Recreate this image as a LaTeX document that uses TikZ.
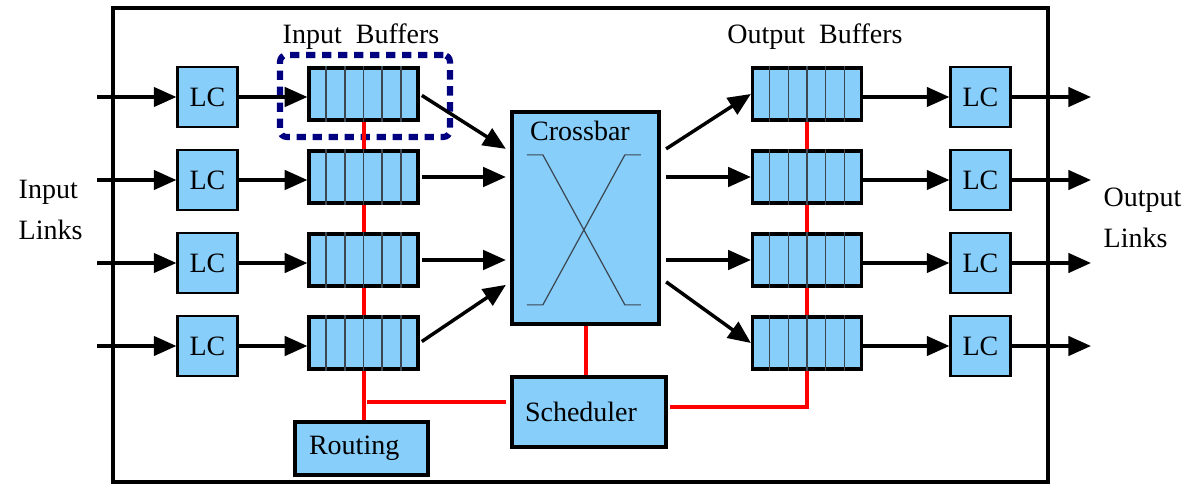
\documentclass[tikz,border=0pt]{standalone}
\usepackage{fontspec}
\setmainfont{Liberation Serif}
\usetikzlibrary{arrows.meta,calc}
\definecolor{boxblue}{RGB}{135,206,250}
\definecolor{navyd}{RGB}{0,0,128}
\definecolor{xline}{RGB}{60,70,80}
\begin{document}
\begin{tikzpicture}[x=0.75pt,y=-0.75pt,
  every node/.style={font=\fontsize{21}{25}\selectfont},
  lcbox/.style={draw=black,line width=1.6pt,fill=boxblue,minimum width=45pt,minimum height=45.5pt,inner sep=0pt},
  bufbox/.style={draw=black,line width=2.4pt,fill=boxblue,minimum width=81.75pt,minimum height=39pt,inner sep=0pt},
  bigbox/.style={draw=black,line width=3.2pt,fill=boxblue,inner sep=0pt},
  arr/.style={line width=2.6pt,-{Triangle[length=17pt,width=14.5pt]}},
  redl/.style={red,line width=3pt},
  divl/.style={line width=1.1pt,draw=xline}]
\useasboundingbox (0,0) rectangle (1186,484);
% outer frame
\draw[line width=3.4pt] (113,8) rectangle (1048,482);
% dashed highlight
\node[draw=navyd,line width=4.6pt,dash pattern=on 7pt off 5pt,rounded corners=5pt,minimum width=127.5pt,minimum height=61.5pt,inner sep=0pt] (hl) at (365,96) {};
% line cards
\foreach \i/\y in {1/97,2/180,3/263,4/346}{
  \node[lcbox] (li\i) at (207.5,\y) {LC};
  \node[bufbox] (ib\i) at (363.5,\y-3) {};
  \node[bufbox] (ob\i) at (807,\y-3) {};
  \node[lcbox] (lo\i) at (980.5,\y) {LC};
  \coordinate (in\i) at (97,\y);
  \coordinate (out\i) at (1091,\y);
}
\foreach \b in {ib1,ib2,ib3,ib4,ob1,ob2,ob3,ob4}{
  \foreach \k in {1,...,5}{
    \draw[divl] ($(\b.south west)!\k/6!(\b.south east)$) -- ($(\b.north west)!\k/6!(\b.north east)$);
  }
}
% crossbar
\node[bigbox,minimum width=110.25pt,minimum height=159pt] (cb) at (585.5,218) {};
\node (cbl) at (580,131) {Crossbar};
\draw[xline,line width=0.9pt] ($(cb.north west)+(17,45)$) -- ++(16,0) -- ($(cb.north west)+(115,195)$) -- ++(16,0);
\draw[xline,line width=0.9pt] ($(cb.north west)+(17,195)$) -- ++(16,0) -- ($(cb.north west)+(115,45)$) -- ++(16,0);
% scheduler and routing
\node[bigbox,line width=3.6pt,minimum width=115.5pt,minimum height=52.5pt] (sch) at (589,412) {\hspace*{-12pt}Scheduler};
\node[bigbox,line width=3.6pt,minimum width=99.75pt,minimum height=39.75pt] (rt) at (361.5,448.5) {\hspace*{-11pt}Routing};
% labels
\node (ibl) at (361,37) {Input\ \ Buffers};
\node (obl) at (815,37) {Output\ \ Buffers};
\node[align=left,anchor=west,font=\fontsize{21}{31}\selectfont] (inl) at (14,210) {Input\\Links};
\node[align=left,anchor=west,font=\fontsize{21}{31}\selectfont] (outl) at (1099,218) {Output\\Links};
% red control lines
\draw[redl] (ib1.south) -- (ib2.north);
\draw[redl] (ib2.south) -- (ib3.north);
\draw[redl] (ib3.south) -- (ib4.north);
\draw[redl] (ib4.south) -- (ib4.south |- rt.north);
\draw[redl] (ob1.south) -- (ob2.north);
\draw[redl] (ob2.south) -- (ob3.north);
\draw[redl] (ob3.south) -- (ob4.north);
\coordinate (rj) at (367,402);
\draw[redl] (rj) -- ($(rj -| sch.west)+(-4,0)$);
\draw[redl] (cb.south) -- (cb.south |- sch.north);
\draw[redl] ($(sch.east)+(2,-5)$) -| (ob4.south);
% arrows
\foreach \i in {1,...,4}{
  \draw[arr] (in\i) -- (li\i.west);
  \draw[arr] (li\i.east) -- (li\i.east -| ib\i.west);
  \draw[arr] (ob\i.east |- lo\i.west) -- (lo\i.west);
  \draw[arr] (lo\i.east) -- (out\i);
}
\draw[arr,shorten <=2pt] (ib1.east) -- ($(cb.north west)+(-4,39)$);
\draw[arr,shorten <=2pt] (ib2.east) -- ($(ib2.east -| cb.west)+(-4,0)$);
\draw[arr,shorten <=2pt] (ib3.east) -- ($(ib3.east -| cb.west)+(-4,0)$);
\draw[arr,shorten <=2pt] (ib4.east) -- ($(cb.north west)+(-4,175)$);
\draw[arr] ($(cb.north east)+(5,39)$) -- (ob1.west);
\draw[arr] ($(ob2.west -| cb.east)+(5,0)$) -- (ob2.west);
\draw[arr] ($(ob3.west -| cb.east)+(5,0)$) -- (ob3.west);
\draw[arr] ($(cb.north east)+(5,172)$) -- (ob4.west);
\end{tikzpicture}
\end{document}
